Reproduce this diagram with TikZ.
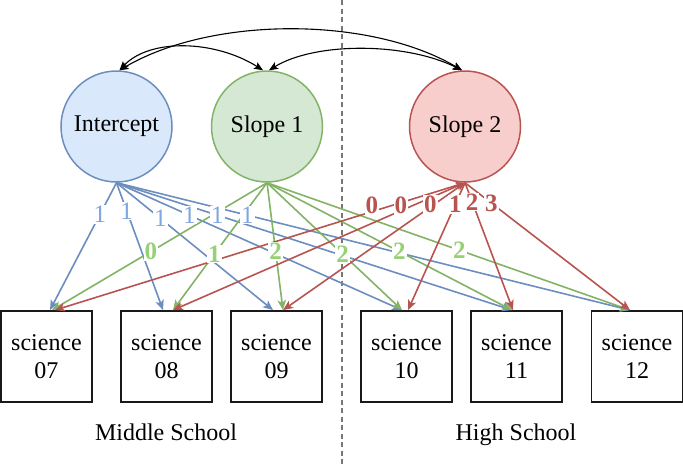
\documentclass[tikz,border=0pt]{standalone}
\usepackage{fontspec}
\setmainfont{Liberation Serif}
\usetikzlibrary{arrows.meta}
\definecolor{bluS}{HTML}{6C8EBF}
\definecolor{bluF}{HTML}{DAE8FC}
\definecolor{bluL}{HTML}{7EA6E0}
\definecolor{grnS}{HTML}{82B366}
\definecolor{grnF}{HTML}{D5E8D4}
\definecolor{grnL}{HTML}{97D077}
\definecolor{redS}{HTML}{B85450}
\definecolor{redF}{HTML}{F8CECC}
\definecolor{dashG}{HTML}{777777}
\tikzset{
  txt/.style={font=\fontsize{24}{28}\selectfont},
  lat/.style={txt, circle, minimum size=111pt, inner sep=0pt, line width=1.5pt},
  obs/.style={txt, draw=black!90, fill=white, line width=1.8pt, minimum width=91pt, minimum height=91pt, inner sep=0pt, text width=88pt, align=center},
  bArr/.style={draw=bluS, line width=1.6pt, -{Stealth[length=10pt,width=8.5pt,inset=2.5pt]}},
  gArr/.style={draw=grnS, line width=1.6pt, -{Stealth[length=10pt,width=8.5pt,inset=2.5pt]}},
  rArr/.style={draw=redS, line width=1.6pt, -{Stealth[length=10pt,width=8.5pt,inset=2.5pt]}},
  rArrB/.style={draw=redS, line width=1.6pt, {Stealth[length=9pt,width=7pt,inset=2.5pt]}-{Stealth[length=10pt,width=8.5pt,inset=2.5pt]}},
  cov/.style={draw=black, line width=1.1pt, {Stealth[length=9pt,width=7.5pt,inset=2pt]}-{Stealth[length=9pt,width=7.5pt,inset=2pt]}},
  lab/.style={font=\fontsize{25}{28}\selectfont, fill=white, inner sep=1pt},
  bLab/.style={lab, text=bluL},
  gLab/.style={lab, text=grnL, font=\fontsize{25}{28}\selectfont\bfseries},
  rLab/.style={lab, text=redS, font=\fontsize{25}{28}\selectfont\bfseries},
  grp/.style={txt, anchor=base},
}
\begin{document}
\begin{tikzpicture}[x=1pt,y=-1pt]
\useasboundingbox (0,0) rectangle (683,464);
\coordinate (dtop) at (341.5,0);
\coordinate (dbot) at (341.5,464);
\draw[dashG, line width=2pt, dash pattern=on 5pt off 3.5pt] (dtop) -- (dbot);

\node[lat, draw=bluS, fill=bluF] (int) at (116.5,126.5) {Intercept};
\node[lat, draw=grnS, fill=grnF] (s1) at (267,126.5) {Slope 1};
\node[lat, draw=redS, fill=redF] (s2) at (465,126.5) {Slope 2};

\node[obs] (b07) at (46.5,356.5) {science\\07};
\node[obs] (b08) at (166.5,356.5) {science\\08};
\node[obs] (b09) at (276.5,356.5) {science\\09};
\node[obs] (b10) at (406.5,356.5) {science\\10};
\node[obs] (b11) at (516.5,356.5) {science\\11};
\node[obs] (b12) at (637,356.5) {science\\12};

\node[grp] (ms) at (166,440) {Middle School};
\node[grp] (hs) at (516,440) {High School};

% covariances
\draw[cov] ([xshift=3pt]int.north) .. controls (212,16) and (370,16) .. ([xshift=-3pt]s2.north);
\draw[cov] ([xshift=3pt]int.north) .. controls (150,38) and (215,40) .. ([xshift=-4pt]s1.north);
\draw[cov] ([xshift=2pt]s1.north) .. controls (315,42) and (405,42) .. ([xshift=-3pt]s2.north);

% loadings: lines
\draw[bArr] (int.south) -- ([xshift=3.5pt]b07.north);
\draw[bArr] (int.south) -- ([xshift=-3.5pt]b08.north);
\draw[bArr] (int.south) -- ([xshift=-3.5pt]b09.north);
\draw[bArr] (int.south) -- ([xshift=-4.5pt]b10.north);
\draw[bArr] (int.south) -- ([xshift=-4.5pt]b11.north);
\draw[bArr] (int.south) -- ([xshift=-7pt]b12.north);

\draw[gArr] (s1.south) -- ([xshift=5.5pt]b07.north);
\draw[gArr] (s1.south) -- ([xshift=6.5pt]b08.north);
\draw[gArr] (s1.south) -- ([xshift=6.5pt]b09.north);
\draw[gArr] (s1.south) -- ([xshift=-4.5pt]b10.north);
\draw[gArr] (s1.south) -- ([xshift=-4.5pt]b11.north);
\draw[gArr] (s1.south) -- ([xshift=-7pt]b12.north);

\draw[rArrB] (s2.south) -- ([xshift=8.5pt]b07.north);
\draw[rArrB] (s2.south) -- ([xshift=6.5pt]b08.north);
\draw[rArrB] (s2.south) -- ([xshift=6.5pt]b09.north);
\draw[rArr] (s2.south) -- ([xshift=1.5pt]b10.north);
\draw[rArr] (s2.south) -- ([xshift=-3.5pt]b11.north);
\draw[rArr] (s2.south) -- ([xshift=-7pt]b12.north);

% loadings: labels
\path (int.south) -- node[bLab,pos=0.25] (lb1) {1} ([xshift=3.5pt]b07.north);
\path (int.south) -- node[bLab,pos=0.22] (lb2) {1} ([xshift=-3.5pt]b08.north);
\path (int.south) -- node[bLab,pos=0.28] (lb3) {1} ([xshift=-3.5pt]b09.north);
\path (int.south) -- node[bLab,pos=0.255] (lb4) {1} ([xshift=-4.5pt]b10.north);
\path (int.south) -- node[bLab,pos=0.255] (lb5) {1} ([xshift=-4.5pt]b11.north);
\path (int.south) -- node[bLab,pos=0.255] (lb6) {1} ([xshift=-7pt]b12.north);

\path (s1.south) -- node[gLab,pos=0.54] (lg1) {0} ([xshift=5.5pt]b07.north);
\path (s1.south) -- node[gLab,pos=0.56] (lg2) {1} ([xshift=6.5pt]b08.north);
\path (s1.south) -- node[gLab,pos=0.54] (lg3) {2} ([xshift=6.5pt]b09.north);
\path (s1.south) -- node[gLab,pos=0.56] (lg4) {2} ([xshift=-4.5pt]b10.north);
\path (s1.south) -- node[gLab,pos=0.54] (lg5) {2} ([xshift=-4.5pt]b11.north);
\path (s1.south) -- node[gLab,pos=0.53] (lg6) {2} ([xshift=-7pt]b12.north);

\path (s2.south) -- node[rLab,pos=0.227,yshift=6pt] (lr1) {0} ([xshift=8.5pt]b07.north);
\path (s2.south) -- node[rLab,pos=0.22,yshift=5pt] (lr2) {0} ([xshift=6.5pt]b08.north);
\path (s2.south) -- node[rLab,pos=0.19,yshift=3pt] (lr3) {0} ([xshift=6.5pt]b09.north);
\path (s2.south) -- node[rLab,pos=0.17] (lr4) {1} ([xshift=1.5pt]b10.north);
\path (s2.south) -- node[rLab,pos=0.15] (lr5) {2} ([xshift=-3.5pt]b11.north);
\path (s2.south) -- node[rLab,pos=0.16] (lr6) {3} ([xshift=-7pt]b12.north);
\end{tikzpicture}
\end{document}
